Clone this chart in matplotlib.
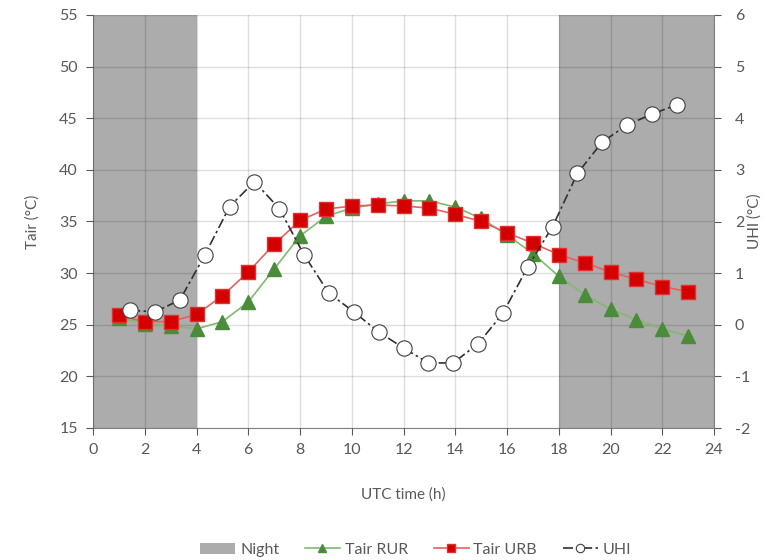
import numpy as np
import matplotlib.pyplot as plt

plt.rcParams['font.family'] = ['Lato', 'DejaVu Sans']
plt.rcParams['axes.unicode_minus'] = False

hours = np.arange(1, 24)
tair_rur = [25.7, 25.1, 24.9, 24.6, 25.3, 27.2, 30.4, 33.6, 35.5, 36.3, 36.7, 37.0,
            37.0, 36.4, 35.3, 33.7, 31.9, 29.7, 27.9, 26.5, 25.5, 24.6, 23.9]
tair_urb = [25.9, 25.3, 25.3, 26.0, 27.8, 30.1, 32.8, 35.1, 36.2, 36.5, 36.6, 36.5,
            36.3, 35.7, 35.0, 33.9, 32.9, 31.8, 31.0, 30.1, 29.4, 28.7, 28.2]
uhi = [0.28, 0.25, 0.48, 1.35, 2.29, 2.77, 2.25, 1.35, 0.61, 0.25, -0.14, -0.45,
       -0.74, -0.74, -0.37, 0.22, 1.12, 1.90, 2.93, 3.54, 3.87, 4.08, 4.26]
night = [(0, 4), (18, 24)]

txt = '#595959'

fig = plt.figure(figsize=(7.77, 5.6), dpi=100)
ax = fig.add_axes([93/777, 1-428/560, (714-93)/777, (428-15)/560])

for i, (a, b) in enumerate(night):
    ax.axvspan(a, b, color='#acacac', lw=0, zorder=0, label='Night' if i == 0 else None)

ax.set_xlim(0, 24)
ax.set_ylim(15, 55)
ax.set_xticks(range(0, 25, 2))
ax.set_yticks(range(15, 56, 5))
ax.grid(True, color='black', alpha=0.13, lw=1)
ax.set_axisbelow(False)

l1, = ax.plot(hours, tair_rur, color='#7fba6e', lw=1.2, marker='^', ms=10,
              mfc='#4a8c3a', mec='#4a8c3a', label='Tair RUR', zorder=3)
l2, = ax.plot(hours, tair_urb, color='#e86060', lw=1.2, marker='s', ms=10.5,
              mfc='#d40000', mec='#e03030', label='Tair URB', zorder=4)

ax.set_xlabel('UTC time (h)', color=txt, fontsize=11, labelpad=22)
ax.set_ylabel('Tair (°C)', color=txt, fontsize=11, labelpad=14)
ax.tick_params(colors=txt, labelsize=11.5, direction='out', length=5, pad=6)
ax.spines['top'].set_visible(False)
ax.spines['left'].set_color('#808080')
ax.spines['bottom'].set_color('#808080')
ax.spines['right'].set_visible(False)

# UHI on secondary axes (category positions)
ax2 = ax.twinx()
ax3 = ax2.twiny()
ax3.set_xlim(-0.5, 24.5)
ax3.set_xticks([])
ax2.set_ylim(-2, 6)
ax3.set_ylim(-2, 6)
ax2.set_yticks(range(-2, 7))
l3, = ax3.plot(hours, uhi, color='#303030', lw=1.2, ls=(0, (6, 2, 1.5, 2)),
               marker='o', ms=11, mfc='white', mec='#404040', mew=0.8, label='UHI', zorder=5)
ax2.set_ylabel('UHI (°C)', color=txt, fontsize=11, labelpad=-2)
ax2.tick_params(colors=txt, labelsize=11.5, direction='out', length=5, pad=10)
for a in (ax2, ax3):
    for s in ['top', 'left', 'bottom']:
        a.spines[s].set_visible(False)
ax2.spines['right'].set_color('#808080')
ax3.spines['right'].set_visible(False)

h, l = ax.get_legend_handles_labels()
fig.legend(h + [l3], l + ['UHI'], loc='lower center', bbox_to_anchor=(0.535, -0.02),
           ncol=4, frameon=False, fontsize=11.5, labelcolor=txt, handlelength=2.2,
           markerscale=0.55, columnspacing=1.6, handletextpad=0.3)

fig.savefig('out.png', dpi=100)
